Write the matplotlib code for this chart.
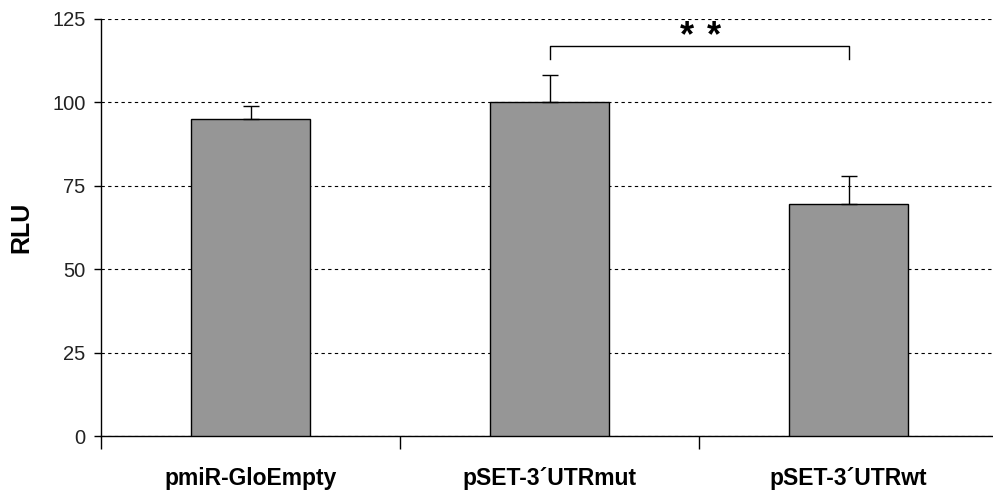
import matplotlib
matplotlib.use("Agg")
import matplotlib.pyplot as plt

categories = ["pmiR-GloEmpty", "pSET-3\u00b4UTRmut", "pSET-3\u00b4UTRwt"]
values = [95, 100, 69.5]
errors = [4, 8.2, 8.5]
yticks = [0, 25, 50, 75, 100, 125]

plt.rcParams['font.family'] = ['Liberation Sans', 'DejaVu Sans']

fig = plt.figure(figsize=(9.93, 4.95), dpi=100)
ax = fig.add_axes([101/993, 1-436/495, 897/993, 417/495])

x = list(range(len(categories)))
ax.bar(x, values, width=0.4, color='#969696', edgecolor='black', linewidth=1, zorder=3)
ax.errorbar(x, values, yerr=[[0]*3, errors], fmt='none', ecolor='black',
            elinewidth=1, capsize=5.5, capthick=1, zorder=4)

ax.set_xlim(-0.5, 2.5)
ax.set_ylim(0, 125)
ax.set_yticks(yticks)
ax.set_yticklabels([str(t) for t in yticks], fontsize=14.5, color='#222222')
ax.yaxis.grid(True, linestyle=(0, (3, 3)), color='black', linewidth=0.8, zorder=0)
ax.set_axisbelow(True)

ax.set_xticks([-0.5, 0.5, 1.5, 2.5])
ax.set_xticklabels([])
ax.set_xticks(x, minor=True)
ax.set_xticklabels(categories, minor=True, fontsize=16.5, fontweight='bold')
ax.tick_params(axis='x', which='major', direction='out', length=9, width=1)
ax.tick_params(axis='x', which='minor', length=0, pad=22)
ax.tick_params(axis='y', direction='out', length=5, width=1, pad=6)

for s in ['top', 'right']:
    ax.spines[s].set_visible(False)
ax.spines['left'].set_linewidth(1)
ax.spines['bottom'].set_linewidth(1)

ax.set_ylabel("RLU", fontsize=18, fontweight='bold', labelpad=14)

# significance bracket
ax.plot([1, 1, 2, 2], [113, 117, 117, 113], color='black', linewidth=1, clip_on=False, zorder=5)
ax.text(1.458, 119.8, "*", ha='center', va='center', fontsize=26, fontweight='bold')
ax.text(1.550, 119.8, "*", ha='center', va='center', fontsize=26, fontweight='bold')

fig.savefig("out.png", dpi=100)
